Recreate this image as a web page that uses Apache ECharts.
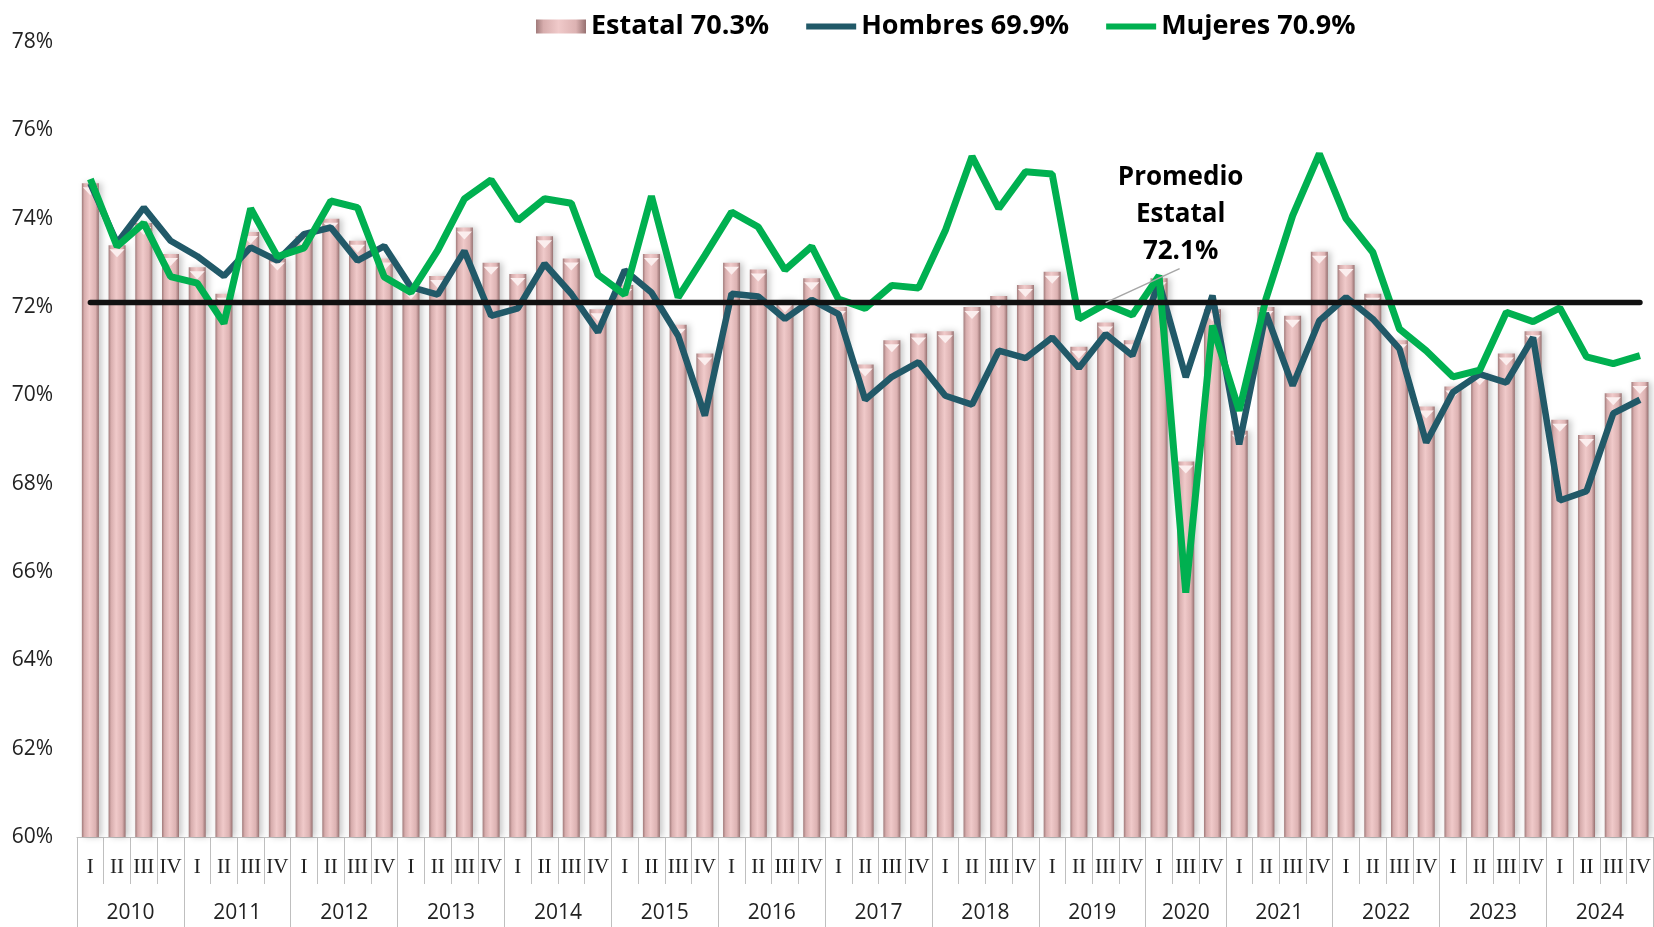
<!DOCTYPE html>
<html>
<head>
<meta charset="utf-8">
<script src="https://cdn.jsdelivr.net/npm/echarts@6/dist/echarts.min.js"></script>
<style>
  html, body { margin: 0; padding: 0; background: #fff; }
  #chart { width: 1654px; height: 927px; }
</style>
</head>
<body>
<div id="chart"></div>
<script>
// años y trimestres (2020 sin trimestre II)
const years = ['2010', '2011', '2012', '2013', '2014', '2015', '2016', '2017', '2018', '2019', '2020', '2021', '2022', '2023', '2024'];
const quarterSets = [
  ['I', 'II', 'III', 'IV'], ['I', 'II', 'III', 'IV'], ['I', 'II', 'III', 'IV'], ['I', 'II', 'III', 'IV'],
  ['I', 'II', 'III', 'IV'], ['I', 'II', 'III', 'IV'], ['I', 'II', 'III', 'IV'], ['I', 'II', 'III', 'IV'],
  ['I', 'II', 'III', 'IV'], ['I', 'II', 'III', 'IV'], ['I', 'III', 'IV'], ['I', 'II', 'III', 'IV'],
  ['I', 'II', 'III', 'IV'], ['I', 'II', 'III', 'IV'], ['I', 'II', 'III', 'IV']
];

const estatal = [74.8, 73.4, 73.9, 73.2, 72.9, 72.3, 73.7, 73.1, 73.6, 74.0,
  73.5, 73.1, 72.45, 72.7, 73.8, 73.0, 72.75, 73.6, 73.1, 71.95,
  72.5, 73.2, 71.6, 70.95, 73.0, 72.85, 72.15, 72.65, 72.0, 70.7,
  71.25, 71.4, 71.45, 72.0, 72.25, 72.5, 72.8, 71.1, 71.65, 71.25,
  72.65, 68.5, 71.95, 69.2, 72.0, 71.8, 73.25, 72.95, 72.3, 71.25,
  69.75, 70.2, 70.5, 70.95, 71.45, 69.45, 69.1, 70.05, 70.3];

const hombres = [74.8, 73.45, 74.25, 73.5, 73.15, 72.7, 73.35, 73.05, 73.65, 73.8,
  73.05, 73.38, 72.45, 72.28, 73.27, 71.8, 71.97, 72.98, 72.3, 71.43,
  72.83, 72.33, 71.35, 69.54, 72.3, 72.24, 71.73, 72.16, 71.84, 69.9,
  70.42, 70.75, 69.99, 69.79, 71.01, 70.84, 71.31, 70.62, 71.39, 70.9,
  72.56, 70.41, 72.26, 68.89, 71.86, 70.22, 71.69, 72.22, 71.73, 71.05,
  68.93, 70.07, 70.48, 70.29, 71.31, 67.62, 67.83, 69.59, 69.9];

const mujeres = [74.9, 73.37, 73.9, 72.69, 72.54, 71.63, 74.23, 73.14, 73.34, 74.4,
  74.25, 72.68, 72.33, 73.28, 74.45, 74.88, 73.96, 74.45, 74.35, 72.73,
  72.28, 74.51, 72.22, 73.17, 74.15, 73.81, 72.84, 73.37, 72.18, 71.97,
  72.49, 72.43, 73.73, 75.41, 74.23, 75.06, 75.01, 71.73, 72.07, 71.82,
  72.71, 65.53, 71.58, 69.65, 72.18, 74.07, 75.47, 74.0, 73.24, 71.5,
  71.01, 70.42, 70.57, 71.88, 71.67, 71.98, 70.87, 70.72, 70.9];

const promedio = 72.1;
const yTicks = [60, 62, 64, 66, 68, 70, 72, 74, 76, 78];

// categorías únicas "año-trimestre"
const categories = [];
const yearBounds = [0];
const yearCenters = [];
years.forEach((y, k) => {
  const start = categories.length;
  quarterSets[k].forEach(q => categories.push(y + '-' + q));
  yearBounds.push(categories.length);
  yearCenters.push((start + categories.length) / 2);
});
const n = categories.length;

const chart = echarts.init(document.getElementById('chart'));

const barColor = new echarts.graphic.LinearGradient(0, 0, 1, 0, [
  { offset: 0, color: '#a07a7a' },
  { offset: 0.15, color: '#d7adad' },
  { offset: 0.45, color: '#f0caca' },
  { offset: 0.8, color: '#dcb2b2' },
  { offset: 1, color: '#967070' }
]);

const lineIcon = 'path://M0,0H50V6H0Z';

const option = {
  animation: false,
  backgroundColor: '#fff',
  legend: {
    left: 531,
    top: 8,
    itemWidth: 50,
    itemHeight: 14,
    itemGap: 37,
    symbolKeepAspect: true,
    data: [
      { name: 'Estatal', icon: 'rect' },
      { name: 'Hombres', icon: lineIcon },
      { name: 'Mujeres', icon: lineIcon }
    ],
    formatter: name => {
      const s = name === 'Estatal' ? estatal : name === 'Hombres' ? hombres : mujeres;
      return name + ' ' + s[s.length - 1].toFixed(1) + '%';
    },
    textStyle: { fontFamily: 'Open Sans', fontWeight: 'bold', fontSize: 27, color: '#000' }
  },
  grid: { left: 77, top: 42, width: 1580, height: 795 },
  xAxis: [
    {
      type: 'category',
      data: categories,
      boundaryGap: true,
      axisLine: { lineStyle: { color: '#bfbfbf', width: 1 } },
      axisTick: { show: true, interval: 0, length: 47, lineStyle: { color: '#bfbfbf' } },
      axisLabel: {
        interval: 0,
        margin: 20,
        formatter: v => v.split('-')[1],
        fontFamily: 'Liberation Serif',
        fontSize: 21,
        color: '#222'
      },
      splitLine: { show: false }
    },
    {
      type: 'value',
      position: 'bottom',
      min: 0,
      max: n,
      axisLine: { show: false },
      axisTick: { show: true, customValues: yearBounds, length: 94, lineStyle: { color: '#bfbfbf' } },
      axisLabel: {
        customValues: yearCenters,
        margin: 66,
        formatter: v => years[yearCenters.indexOf(v)],
        fontFamily: 'Open Sans',
        fontSize: 21,
        color: '#222'
      },
      splitLine: { show: false }
    }
  ],
  yAxis: {
    type: 'value',
    min: 60,
    max: 78,
    interval: 2,
    axisLine: { show: false },
    axisTick: { show: false },
    splitLine: { show: false },
    axisLabel: {
      margin: 24,
      formatter: v => yTicks.indexOf(v) >= 0 ? v + '%' : '',
      fontFamily: 'Open Sans',
      fontSize: 21,
      color: '#222'
    }
  },
  series: [
    {
      name: 'Estatal',
      type: 'bar',
      data: estatal,
      barWidth: 17,
      itemStyle: {
        color: barColor,
        shadowColor: 'rgba(0,0,0,0.22)',
        shadowBlur: 6,
        shadowOffsetX: 3
      },
      z: 2
    },
    {
      name: 'bisel',
      type: 'pictorialBar',
      data: estatal,
      symbol: 'triangle',
      symbolRotate: 180,
      symbolSize: [15, 8],
      symbolPosition: 'end',
      symbolOffset: [0, '50%'],
      itemStyle: { color: '#fbeeee' },
      silent: true,
      z: 3
    },
    {
      name: 'Hombres',
      type: 'line',
      data: hombres,
      symbol: 'none',
      lineStyle: { color: '#215968', width: 6.5 },
      itemStyle: { color: '#215968' },
      z: 4
    },
    {
      name: 'Mujeres',
      type: 'line',
      data: mujeres,
      symbol: 'none',
      lineStyle: { color: '#00b050', width: 7 },
      itemStyle: { color: '#00b050' },
      z: 5
    },
    {
      name: 'Promedio',
      type: 'line',
      data: categories.map(() => promedio),
      symbol: 'none',
      lineStyle: { color: '#111', width: 5.5, cap: 'round' },
      z: 6
    }
  ]
};

chart.setOption(option);

// rótulo del promedio con línea guía
const p = chart.convertToPixel({ xAxisIndex: 0, yAxisIndex: 0 }, [categories[38], promedio]);
chart.setOption({
  graphic: [
    {
      type: 'line',
      shape: { x1: p[0], y1: p[1], x2: p[0] + 74, y2: p[1] - 34 },
      style: { stroke: '#a6a6a6', lineWidth: 1.5 },
      z: 10
    },
    {
      type: 'text',
      x: p[0] + 75,
      y: p[1] - 88,
      style: {
        text: 'Promedio\nEstatal\n' + promedio.toFixed(1) + '%',
        fontFamily: 'Open Sans',
        fontWeight: 'bold',
        fontSize: 26,
        lineHeight: 37,
        fill: '#000',
        align: 'center',
        verticalAlign: 'middle'
      },
      z: 10
    }
  ]
});

window.addEventListener('resize', () => chart.resize());
</script>
</body>
</html>
